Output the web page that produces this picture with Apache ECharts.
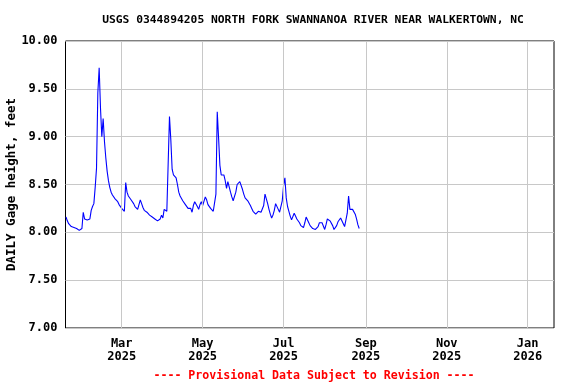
<!DOCTYPE html>
<html>
<head>
<meta charset="utf-8">
<script src="https://cdn.jsdelivr.net/npm/echarts@6/dist/echarts.min.js"></script>
<style>
html,body{margin:0;padding:0;background:#fff;}
#chart{width:576px;height:384px;}
</style>
</head>
<body>
<div id="chart"></div>
<script>
// Daily gage height (feet), one value per day starting 2025-01-18
const startDate = [2025, 0, 18];
const gageHeight = [
  8.16, 8.12, 8.09, 8.07, 8.06, 8.05, 8.05, 8.04, 8.04, 8.05,
  8.02, 8.02, 8.04, 8.21, 8.14, 8.12, 8.13, 8.14, 8.14, 8.23,
  8.27, 8.30, 8.47, 8.67, 9.46, 9.72, 9.30, 9.00, 9.19, 8.95,
  8.78, 8.64, 8.54, 8.47, 8.42, 8.39, 8.37, 8.35, 8.34, 8.32,
  8.29, 8.27, 8.25, 8.23, 8.22, 8.52, 8.42, 8.38, 8.36, 8.34,
  8.32, 8.30, 8.27, 8.25, 8.24, 8.23, 8.34, 8.30, 8.26, 8.23,
  8.22, 8.21, 8.20, 8.18, 8.17, 8.16, 8.15, 8.14, 8.13, 8.12,
  8.11, 8.14, 8.18, 8.15, 8.24, 8.25, 8.22, 8.23, 9.21, 8.97,
  8.66, 8.60, 8.61, 8.57, 8.50, 8.42, 8.38, 8.36, 8.33, 8.31,
  8.29, 8.27, 8.25, 8.23, 8.25, 8.21, 8.28, 8.32, 8.30, 8.27,
  8.24, 8.29, 8.32, 8.28, 8.30, 8.37, 8.34, 8.29, 8.27, 8.25,
  8.23, 8.22, 8.21, 8.40, 9.26, 8.99, 8.70, 8.60, 8.62, 8.60,
  8.54, 8.46, 8.53, 8.55, 8.42, 8.37, 8.33, 8.35, 8.42, 8.50,
  8.52, 8.53, 8.52, 8.45, 8.40, 8.36, 8.34, 8.33, 8.31, 8.28,
  8.25, 8.22, 8.20, 8.19, 8.20, 8.22, 8.20, 8.21, 8.23, 8.28,
  8.40, 8.35, 8.30, 8.24, 8.19, 8.15, 8.18, 8.23, 8.30, 8.29,
  8.24, 8.21, 8.22, 8.33, 8.49, 8.57, 8.36, 8.27, 8.22, 8.17,
  8.13, 8.13, 8.20, 8.17, 8.14, 8.13, 8.10, 8.07, 8.07, 8.05,
  8.10, 8.16, 8.14, 8.10, 8.07, 8.05, 8.04, 8.02, 8.03, 8.01,
  8.06, 8.10, 8.11, 8.10, 8.08, 8.03, 8.08, 8.14, 8.14, 8.12,
  8.10, 8.07, 8.03, 8.05, 8.07, 8.11, 8.13, 8.15, 8.13, 8.09,
  8.06, 8.05, 8.20, 8.38, 8.24, 8.25, 8.24, 8.23, 8.19, 8.14,
  8.08, 8.04
];
const xTickDates = [[2025,2,1],[2025,4,1],[2025,6,1],[2025,8,1],[2025,10,1],[2026,0,1]];
const xTickLabels = ['Mar\n2025','May\n2025','Jul\n2025','Sep\n2025','Nov\n2025','Jan\n2026'];
const yTicks = [7.0, 7.5, 8.0, 8.5, 9.0, 9.5, 10.0];
const titleText = 'USGS 0344894205 NORTH FORK SWANNANOA RIVER NEAR WALKERTOWN, NC';
const yAxisTitle = 'DAILY Gage height, feet';
const footerText = '---- Provisional Data Subject to Revision ----';

const DAY = 86400000;
const t0 = new Date(startDate[0], startDate[1], startDate[2]).getTime();
const seriesData = gageHeight.map((v, i) => [t0 + i * DAY, v]);
const tickTimes = xTickDates.map(d => new Date(d[0], d[1], d[2]).getTime());
const labelMap = {};
tickTimes.forEach((t, i) => { labelMap[t] = xTickLabels[i]; });

const FONT = 'DejaVu Sans Mono';
const chart = echarts.init(document.getElementById('chart'), null, {renderer: 'canvas'});
chart.setOption({
  animation: false,
  backgroundColor: '#ffffff',
  title: [{
    text: titleText,
    left: 308, top: 10, textAlign: 'center',
    textStyle: {fontFamily: FONT, fontWeight: 'bold', fontSize: 11.3, color: '#000'}
  }, {
    text: footerText,
    left: 309, top: 365, textAlign: 'center',
    textStyle: {fontFamily: FONT, fontWeight: 'bold', fontSize: 11.6, color: '#ff0000'}
  }],
  graphic: [{
    type: 'text',
    x: 12, y: 184.5,
    rotation: Math.PI / 2,
    style: {
      text: yAxisTitle,
      fontFamily: FONT, fontWeight: 'bold', fontSize: 12.5, fill: '#000',
      align: 'center', verticalAlign: 'middle'
    }
  }],
  grid: {
    left: 65.5, right: 22, top: 41, bottom: 56,
    containLabel: false,
    outerBoundsMode: 'none',
    show: true, borderColor: '#000', borderWidth: 1, backgroundColor: 'transparent'
  },
  xAxis: {
    type: 'value',
    min: new Date(2025, 0, 17, 15).getTime(),
    max: new Date(2026, 0, 20, 20).getTime(),
    axisLine: {show: false},
    axisTick: {show: false},
    splitLine: {show: false},
    axisLabel: {
      customValues: tickTimes,
      formatter: function (v) { return labelMap[v] || ''; },
      fontFamily: FONT, fontWeight: 'bold', fontSize: 12, color: '#000',
      lineHeight: 13, margin: 9, align: 'center'
    }
  },
  yAxis: {
    type: 'value',
    min: yTicks[0], max: yTicks[yTicks.length - 1], interval: 0.5,
    axisLine: {show: false},
    axisTick: {show: false},
    splitLine: {show: true, lineStyle: {color: '#c8c8c8', width: 1}},
    axisLabel: {
      formatter: function (v) { return v.toFixed(2); },
      fontFamily: FONT, fontWeight: 'bold', fontSize: 12, color: '#000', margin: 8
    }
  },
  series: [{
    type: 'line',
    data: seriesData,
    showSymbol: false,
    silent: true,
    lineStyle: {opacity: 0},
    z: 1,
    markLine: {
      silent: true,
      symbol: ['none', 'none'],
      label: {show: false},
      lineStyle: {color: '#c8c8c8', width: 1, type: 'solid'},
      data: tickTimes.map(t => ({xAxis: t}))
    }
  }, {
    type: 'line',
    data: seriesData,
    showSymbol: false,
    z: 3,
    lineStyle: {color: '#0000ff', width: 1.1},
    itemStyle: {color: '#0000ff'}
  }]
});
</script>
</body>
</html>
